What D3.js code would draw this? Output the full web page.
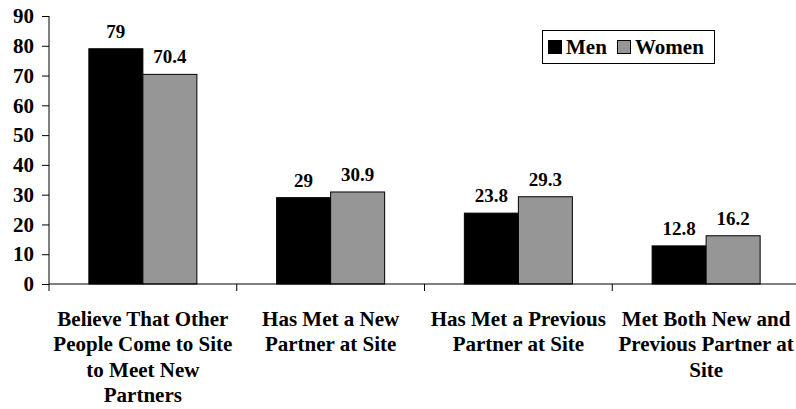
<!DOCTYPE html>
<html>
<head>
<meta charset="utf-8">
<script src="https://cdn.jsdelivr.net/npm/d3@7"></script>
<style>
  html, body { margin: 0; padding: 0; background: #fff; }
  svg { display: block; }
</style>
</head>
<body>
<svg id="chart" width="796" height="409"></svg>
<script>
// Survey responses by gender (percent)
const categories = [
  ["Believe That Other", "People Come to Site", "to Meet New", "Partners"],
  ["Has Met a New", "Partner at Site"],
  ["Has Met a Previous", "Partner at Site"],
  ["Met Both New and", "Previous Partner at", "Site"]
];
const seriesNames = ["Men", "Women"];
const men = [79, 29, 23.8, 12.8];
const women = [70.4, 30.9, 29.3, 16.2];
const yTicks = [0, 10, 20, 30, 40, 50, 60, 70, 80, 90];

const colors = { Men: "#000000", Women: "#969696" };
const values = { Men: men, Women: women };
const FONT = '"Liberation Serif", "Times New Roman", serif';

const svg = d3.select("#chart");
const plotLeft = 49, plotRight = 800, plotTop = 16, plotBottom = 284;

const idx = categories.map((c, i) => i);
const x = d3.scaleBand().domain(idx).range([plotLeft, plotRight]).padding(0);
const x1 = d3.scaleBand().domain(seriesNames).range([0, x.bandwidth()])
  .paddingInner(0).paddingOuter(0.738);
const y = d3.scaleLinear().domain([0, 90]).range([plotBottom, plotTop]);

function styleText(sel, size) {
  return sel.style("font-family", FONT).style("font-weight", "bold")
    .style("font-size", size + "px").attr("fill", "#000");
}

// Bars
seriesNames.forEach(s => {
  svg.append("g").selectAll("rect")
    .data(idx)
    .join("rect")
    .attr("x", i => x(i) + x1(s))
    .attr("y", i => y(values[s][i]))
    .attr("width", x1.bandwidth())
    .attr("height", i => y(0) - y(values[s][i]))
    .attr("fill", colors[s])
    .attr("stroke", "#000")
    .attr("stroke-width", 1);
});

// Value labels
seriesNames.forEach(s => {
  svg.append("g").selectAll("text")
    .data(idx)
    .join("text")
    .attr("x", i => x(i) + x1(s) + x1.bandwidth() / 2)
    .attr("y", i => y(values[s][i]) - 11)
    .attr("text-anchor", "middle")
    .call(styleText, 19)
    .text(i => values[s][i]);
});

// Y axis
const yAxis = d3.axisLeft(y).tickValues(yTicks).tickSize(7).tickPadding(8).tickSizeOuter(0);
const gy = svg.append("g").attr("transform", `translate(${plotLeft},0)`).call(yAxis);
gy.select(".domain").attr("stroke", "#000").attr("d", `M0,${plotTop}V${plotBottom + 7}`);
gy.selectAll(".tick line").attr("stroke", "#000");
gy.selectAll(".tick text").call(styleText, 21);

// X axis baseline with boundary ticks
svg.append("line").attr("x1", plotLeft).attr("x2", plotRight).attr("y1", y(0)).attr("y2", y(0))
  .attr("stroke", "#000");
svg.append("g").selectAll("line")
  .data(idx.slice(1))
  .join("line")
  .attr("x1", i => x(i)).attr("x2", i => x(i))
  .attr("y1", y(0)).attr("y2", y(0) + 7)
  .attr("stroke", "#000");

// Category labels
const cat = svg.append("g").selectAll("text")
  .data(idx)
  .join("text")
  .attr("text-anchor", "middle")
  .call(styleText, 21);
cat.each(function(i) {
  d3.select(this).selectAll("tspan")
    .data(categories[i])
    .join("tspan")
    .attr("x", x(i) + x.bandwidth() / 2)
    .attr("y", (d, k) => 326 + k * 25.4)
    .text(d => d);
});

// Legend
const lg = svg.append("g");
lg.append("rect").attr("x", 542.5).attr("y", 30.5).attr("width", 172).attr("height", 33)
  .attr("fill", "#fff").attr("stroke", "#000").attr("stroke-width", 1);
const legendPos = [{ sx: 548, tx: 566 }, { sx: 617, tx: 635 }];
seriesNames.forEach((s, k) => {
  lg.append("rect").attr("x", legendPos[k].sx + 0.5).attr("y", 40.5)
    .attr("width", 13).attr("height", 13)
    .attr("fill", colors[s]).attr("stroke", "#000");
  lg.append("text").attr("x", legendPos[k].tx).attr("y", 53.5)
    .call(styleText, 21).text(s);
});
</script>
</body>
</html>
